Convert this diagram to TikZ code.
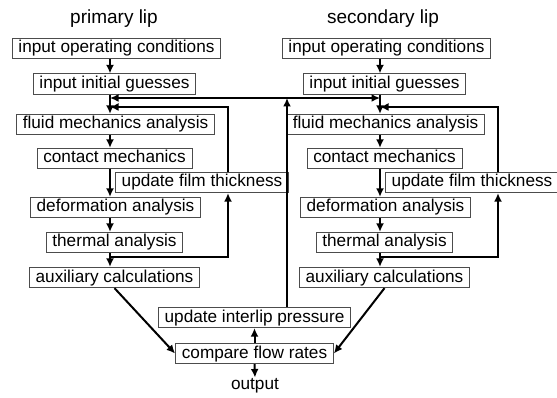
\documentclass[tikz,border=0pt]{standalone}
\usepackage{fontspec}
\setmainfont{Liberation Sans}
\usetikzlibrary{arrows.meta}
\begin{document}
\begin{tikzpicture}[x=1pt,y=-1pt,
  stepbox/.style={draw=black!70,line width=0.9pt,fill=white,inner xsep=6.3pt,inner ysep=2pt,
    text height=12.7pt,text depth=3.7pt,font=\fontsize{17.2}{20}\selectfont},
  title/.style={font=\fontsize{19}{22}\selectfont,inner sep=0pt},
  flow/.style={line width=2pt,-{Latex[length=8.5pt,width=8pt]}},
  flowboth/.style={line width=2pt,{Latex[length=8.5pt,width=8pt]}-{Latex[length=8.5pt,width=8pt]}}]
\useasboundingbox (0,0) rectangle (557,398);

% column titles
\node[title] (tp) at (114,18.5) {primary lip};
\node[title] (ts) at (383,18.5) {secondary lip};

% primary lip column
\node[stepbox] (ioc1) at (116.5,48.5) {input operating conditions};
\node[stepbox] (iig1) at (114.5,84) {input initial guesses};
\node[stepbox] (fma1) at (115.5,124.5) {fluid mechanics analysis};
\node[stepbox] (cm1)  at (114.5,158.5) {contact mechanics};
\node[stepbox] (uft1) at (202,182.5) {update film thickness};
\node[stepbox] (da1)  at (115.5,207.5) {deformation analysis};
\node[stepbox] (ta1)  at (114.5,242.5) {thermal analysis};
\node[stepbox] (ac1)  at (114.5,277.5) {auxiliary calculations};

% secondary lip column
\node[stepbox] (ioc2) at (386.5,48.5) {input operating conditions};
\node[stepbox] (iig2) at (384.5,84) {input initial guesses};
\node[stepbox] (fma2) at (385.5,124.5) {fluid mechanics analysis};
\node[stepbox] (cm2)  at (384.5,158.5) {contact mechanics};
\node[stepbox] (uft2) at (472,182.5) {update film thickness};
\node[stepbox] (da2)  at (385.5,207.5) {deformation analysis};
\node[stepbox] (ta2)  at (384.5,242.5) {thermal analysis};
\node[stepbox] (ac2)  at (384.5,277.5) {auxiliary calculations};

% coupling of the two lips
\node[stepbox] (uip) at (254.5,317.5) {update interlip pressure};
\node[stepbox] (cfr) at (254.5,353.5) {compare flow rates};
\node[font=\fontsize{17.2}{20}\selectfont,inner sep=1pt] (out) at (255,386) {output};

% main axes of the two columns and loop lines
\coordinate (m1) at (110,0);
\coordinate (m2) at (380,0);
\coordinate (l1) at (228,0);
\coordinate (l2) at (498,0);
\coordinate (p)  at (287,0);
\coordinate (hp) at (0,98);
\coordinate (hf) at (0,107);
\coordinate (ht) at (0,257);

% primary chain
\draw[flow] (ioc1.south -| m1) -- (iig1.north -| m1);
\draw[flow] (iig1.south -| m1) -- (fma1.north -| m1);
\draw[flow] (fma1.south -| m1) -- (cm1.north -| m1);
\draw[flow] (cm1.south -| m1) -- (da1.north -| m1);
\draw[flow] (da1.south -| m1) -- (ta1.north -| m1);
\draw[flow] (ta1.south -| m1) -- (ac1.north -| m1);
% primary film thickness loop
\draw[flow] (ht -| m1) -| (uft1.south -| l1);
\draw[flow] (uft1.north -| l1) |- (hf -| m1);

% secondary chain
\draw[flow] (ioc2.south -| m2) -- (iig2.north -| m2);
\draw[flow] (iig2.south -| m2) -- (fma2.north -| m2);
\draw[flow] (fma2.south -| m2) -- (cm2.north -| m2);
\draw[flow] (cm2.south -| m2) -- (da2.north -| m2);
\draw[flow] (da2.south -| m2) -- (ta2.north -| m2);
\draw[flow] (ta2.south -| m2) -- (ac2.north -| m2);
% secondary film thickness loop
\draw[flow] (ht -| m2) -| (uft2.south -| l2);
\draw[flow] (uft2.north -| l2) |- (hf -| m2);

% interlip pressure feedback
\draw[flow] (uip.north -| p) -- (hp -| p);
\draw[flowboth] (hp -| m1) -- (hp -| m2);

% flow rate comparison
\draw[flow] (ac1.south) -- (cfr.west);
\draw[flow] (ac2.south) -- (cfr.east);
\draw[flow] (cfr.north) -- (uip.south);
\draw[flow] (cfr.south) -- (out.north);
\end{tikzpicture}
\end{document}
